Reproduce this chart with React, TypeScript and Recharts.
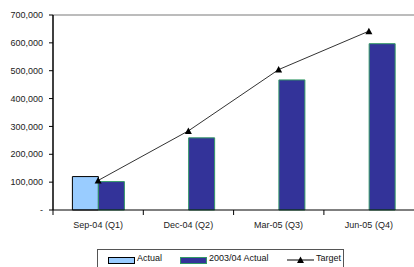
import { ComposedChart, Bar, Line, XAxis, YAxis, ReferenceLine } from 'recharts';

const quarters = ['Sep-04 (Q1)', 'Dec-04 (Q2)', 'Mar-05 (Q3)', 'Jun-05 (Q4)'];
const actual = [120000, null, null, null];
const prevActual = [102000, 259000, 467000, 597000];
const target = [106000, 284000, 504000, 642000];
const yTicks = [0, 100000, 200000, 300000, 400000, 500000, 600000, 700000];

const data = quarters.map((q, i) => ({
  name: q,
  actual: actual[i],
  prev: prevActual[i],
  target: target[i],
}));

const FONT = '"Liberation Sans", Arial, sans-serif';

const Triangle = (props: any) => {
  const { cx, cy } = props;
  if (cx == null || cy == null) return null;
  return <polygon points={`${cx - 3.5},${cy + 3} ${cx + 3.5},${cy + 3} ${cx},${cy - 3.5}`} fill="#000" />;
};

const fmt = (v: number) => (v === 0 ? '-' : v.toLocaleString('en-US'));

export default function App() {
  return (
    <div style={{ position: 'absolute', left: 0, top: 0, width: 414, height: 267, background: '#fff', fontFamily: FONT, overflow: 'hidden' }}>
      <ComposedChart
        width={414}
        height={267}
        data={data}
        margin={{ top: 15, right: 0, left: 0, bottom: 27 }}
        barCategoryGap="21.5%"
        barGap={0}
      >
        <ReferenceLine y={700000} stroke="#a6a6a6" strokeWidth={1.5} />
        <XAxis
          dataKey="name"
          height={30}
          tick={{ fontSize: 9, fill: '#222', fontFamily: FONT }}
          axisLine={{ stroke: '#000', strokeWidth: 1 }}
          tickLine={false}
          tickMargin={6}
        />
        <YAxis
          width={53}
          domain={[0, 700000]}
          ticks={yTicks}
          tickFormatter={fmt}
          tick={{ fontSize: 9, fill: '#222', fontFamily: FONT }}
          axisLine={{ stroke: '#000', strokeWidth: 1.5 }}
          tickLine={{ stroke: '#000' }}
          tickSize={4}
          tickMargin={6}
          interval={0}
        />
        <Bar dataKey="actual" fill="#99ccff" stroke="#000" strokeWidth={1} isAnimationActive={false} />
        <Bar dataKey="prev" fill="#333399" stroke="#339966" strokeWidth={1} isAnimationActive={false} />
        <Line
          dataKey="target"
          stroke="#333"
          strokeWidth={1}
          dot={<Triangle />}
          activeDot={false}
          isAnimationActive={false}
        />
      </ComposedChart>
      {/* category boundary ticks under x axis */}
      <svg style={{ position: 'absolute', left: 0, top: 0, pointerEvents: 'none' }} width={414} height={267}>
        {[0, 1, 2, 3].map((i) => {
          const x = 53 + i * 90.3;
          return <line key={i} x1={x} x2={x} y1={210} y2={215} stroke="#000" />;
        })}
      </svg>
      <div
        style={{
          position: 'absolute',
          left: 97,
          top: 249,
          width: 247,
          height: 20,
          border: '1px solid #555',
          boxSizing: 'border-box',
          fontSize: 9,
          color: '#111',
        }}
      >
        <div style={{ position: 'absolute', left: 10, top: 7, width: 25, height: 5, background: '#99ccff', border: '1px solid #000' }} />
        <span style={{ position: 'absolute', left: 39, top: 3 }}>Actual</span>
        <div style={{ position: 'absolute', left: 82, top: 7, width: 25, height: 5, background: '#333399', border: '1px solid #339966' }} />
        <span style={{ position: 'absolute', left: 111, top: 3 }}>2003/04 Actual</span>
        <svg style={{ position: 'absolute', left: 189, top: 4 }} width={28} height={10}>
          <line x1={0} x2={27} y1={6} y2={6} stroke="#000" />
          <polygon points="10,9 17,9 13.5,2.5" fill="#000" />
        </svg>
        <span style={{ position: 'absolute', left: 218, top: 3 }}>Target</span>
      </div>
    </div>
  );
}
